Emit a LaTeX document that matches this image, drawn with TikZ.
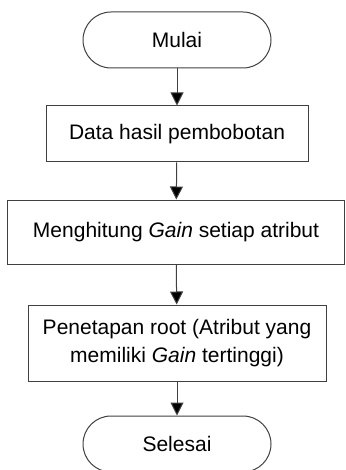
\documentclass[tikz,border=0pt]{standalone}
\usepackage{fontspec}
\setmainfont{Liberation Sans}
\usepackage{tikz}
\usetikzlibrary{arrows.meta}
\usetikzlibrary{shapes}
\usetikzlibrary{positioning}

\definecolor{garis}{HTML}{404040}

\tikzset{
	terminal/.style={draw=garis, line width=0.5pt, rounded corners=14pt, minimum width=94pt, minimum height=28pt, inner sep=0pt, align=center},
	proses/.style={draw=garis, line width=0.5pt, minimum height=28pt, inner sep=0pt, align=center},
	panah/.style={draw=garis, line width=0.5pt, -{Triangle[length=6.5pt, width=6.5pt, fill=black]}}
}

\begin{document}
\begin{tikzpicture}[x=0.5pt, y=-0.5pt, font=\fontsize{10.5}{14}\selectfont]
		\useasboundingbox (0,0) rectangle (345,470);
		\node[terminal] (mulai) at (177,40) {Mulai};
		\node[proses, minimum width=131pt] (data) at (177,134) {Data hasil pembobotan};
		\node[proses, minimum width=168.5pt, minimum height=32pt] (gain) at (176,232) {Menghitung \textit{Gain} setiap atribut};
		\node[proses, minimum width=149pt, minimum height=38pt] (root) at (177,343) {Penetapan root (Atribut yang\\memiliki \textit{Gain} tertinggi)};
		\node[terminal] (selesai) at (177,444) {Selesai};
		
		\draw[panah] (mulai) -- (data);
		\draw[panah] (data) -- (gain);
		\draw[panah] (gain) -- (root);
		\draw[panah] (root) -- (selesai);
		\end{tikzpicture}
\end{document}
